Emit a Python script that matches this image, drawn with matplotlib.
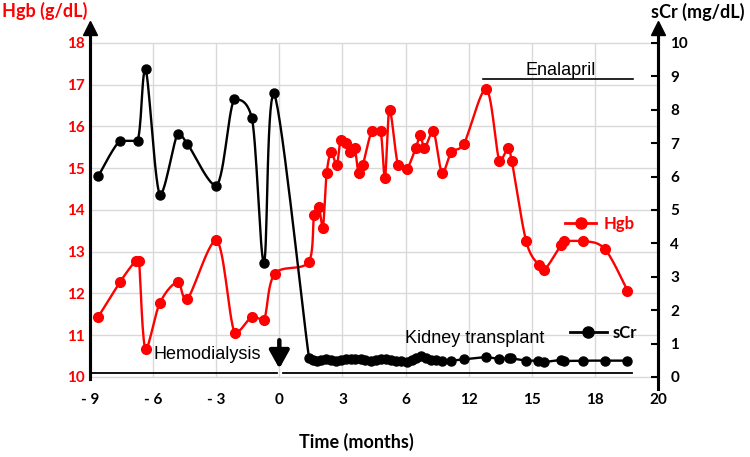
import numpy as np
import matplotlib
matplotlib.use('Agg')
from matplotlib import pyplot as plt
from matplotlib.lines import Line2D

### 1. DATA
# x axis is drawn evenly spaced, so time is kept in axis units (3 per tick)
tick_pos = [-9, -6, -3, 0, 3, 6, 9, 12, 15, 18]
tick_labels = ['- 9', '- 6', '- 3', '0', '3', '6', '12', '15', '18', '20']
hgb_ticks = [10, 11, 12, 13, 14, 15, 16, 17, 18]
scr_ticks = [0, 1, 2, 3, 4, 5, 6, 7, 8, 9, 10]

hgb_t = [-8.61, -7.58, -6.82, -6.67, -6.36, -5.68, -4.84, -4.38, -2.99, -2.12, -1.30, -0.73, -0.22,
         1.41, 1.65, 1.87, 2.07, 2.25, 2.47, 2.73, 2.91, 3.15, 3.34, 3.58, 3.77, 3.97, 4.40, 4.81,
         5.02, 5.24, 5.64, 6.05, 6.49, 6.71, 6.90, 7.32, 7.74, 8.18, 8.77,
         9.83, 10.46, 10.89, 11.05, 11.73, 12.33, 12.60, 13.39, 13.55, 14.45, 15.48, 16.55]
hgb = [11.44, 12.27, 12.79, 12.77, 10.66, 11.77, 12.27, 11.86, 13.28, 11.05, 11.44, 11.37, 12.47,
       12.76, 13.88, 14.08, 13.58, 14.88, 15.38, 15.07, 15.68, 15.60, 15.38, 15.48, 14.88, 15.08, 15.89, 15.89,
       14.77, 16.40, 15.08, 14.98, 15.49, 15.80, 15.48, 15.89, 14.88, 15.38, 15.58,
       16.90, 15.18, 15.49, 15.18, 13.26, 12.68, 12.56, 13.16, 13.26, 13.26, 13.06, 12.07]

scr_t = [-8.61, -7.58, -6.74, -6.36, -5.68, -4.84, -4.38, -2.99, -2.15, -1.30, -0.73, -0.25,
         1.41, 1.59, 1.77, 2.00, 2.23, 2.47, 2.71, 2.95, 3.18, 3.42, 3.62, 3.86, 4.05, 4.37, 4.60,
         4.84, 5.07, 5.31, 5.55, 5.78, 6.07, 6.31, 6.50, 6.73, 6.97, 7.21, 7.45, 7.73, 8.16, 8.80,
         9.82, 10.46, 10.93, 11.01, 11.72, 12.32, 12.59, 13.38, 13.54, 14.44, 15.47, 16.54]
scr = [6.01, 7.07, 7.07, 9.22, 5.45, 7.27, 6.99, 5.72, 8.31, 7.75, 3.42, 8.49,
       0.58, 0.51, 0.49, 0.51, 0.53, 0.51, 0.48, 0.51, 0.53, 0.54, 0.54, 0.54, 0.51, 0.49, 0.51,
       0.53, 0.54, 0.51, 0.49, 0.48, 0.44, 0.51, 0.56, 0.64, 0.56, 0.51, 0.51, 0.49, 0.49, 0.53,
       0.59, 0.54, 0.56, 0.56, 0.49, 0.49, 0.45, 0.51, 0.48, 0.49, 0.49, 0.49]


### 2. HELPERS
def smooth(x, y, n=16):
    # catmull-rom style bezier through the points (like a spreadsheet "smoothed line"),
    # control points kept inside each segment's box so the curve does not overshoot much
    p = np.column_stack([x, y]).astype(float)
    p = np.vstack([p[:1], p, p[-1:]])
    out = [p[1]]
    s = np.linspace(0, 1, n)[1:, None]
    for i in range(1, len(p) - 2):
        p0, p1, p2, p3 = p[i - 1], p[i], p[i + 1], p[i + 2]
        lo, hi = np.minimum(p1, p2), np.maximum(p1, p2)
        c1 = np.clip(p1 + (p2 - p0) / 6, lo, hi)
        c2 = np.clip(p2 - (p3 - p1) / 6, lo, hi)
        seg = (1 - s) ** 3 * p1 + 3 * (1 - s) ** 2 * s * c1 + 3 * (1 - s) * s ** 2 * c2 + s ** 3 * p2
        out.extend(seg)
    out = np.array(out)
    return out[:, 0], out[:, 1]


### 3. FIGURE
red = '#FF0000'
grid_c = '#D9D9D9'
hgb_lo, hgb_hi = 10 - 2 / 41.75, 18 + 14.5 / 41.75

fig = plt.figure(figsize=(7.5, 4.57), dpi=100)
ax = fig.add_axes([0.12, 0.1707, 0.7573, 0.767])
ax2 = ax.twinx()

ax.set_xlim(-9, 18)
ax.set_ylim(hgb_lo, hgb_hi)
ax2.set_ylim((hgb_lo - 10) * 1.25, (hgb_hi - 10) * 1.25)

# grid
for v in hgb_ticks:
    ax.plot([-9, 18], [v, v], color=grid_c, lw=1.0, zorder=0)
ax.vlines(tick_pos, 10, 18, color=grid_c, lw=1.0, zorder=0)

# series
sx, sy = smooth(hgb_t, hgb)
ax.plot(sx, sy, color=red, lw=1.7, zorder=3)
ax.plot(hgb_t, hgb, 'o', color=red, ms=7, zorder=4)

sx, sy = smooth(scr_t, scr)
ax2.plot(sx, sy, color='black', lw=1.7, zorder=3)
ax2.plot(scr_t, scr, 'o', color='black', ms=6.5, zorder=4)

# axes styling
for a in (ax, ax2):
    a.spines['top'].set_visible(False)
    a.spines['bottom'].set_visible(False)
    a.spines['left'].set_linewidth(2.2)
    a.spines['right'].set_linewidth(2.2)
ax2.spines['right'].set_bounds(-0.35, ax2.get_ylim()[1])

ax.set_xticks(tick_pos, tick_labels)
ax.tick_params(axis='x', length=0, pad=10, labelsize=11)
ax.set_yticks(hgb_ticks)
ax.tick_params(axis='y', length=0, pad=4, labelsize=11, labelcolor=red)
ax2.set_yticks(scr_ticks)
ax2.tick_params(axis='y', direction='in', length=5, width=1.5, pad=9, labelsize=11)
for lab in ax.get_xticklabels() + ax.get_yticklabels() + ax2.get_yticklabels():
    lab.set_fontfamily('Lato')
    lab.set_fontweight('bold')

# arrow heads on the two value axes
ax.plot([0], [1], marker='^', ms=9.5, color='black', transform=ax.transAxes, clip_on=False, zorder=5)
ax2.plot([1], [1], marker='^', ms=9.5, color='black', transform=ax2.transAxes, clip_on=False, zorder=5)

# treatment timeline
ax.plot([-9, -0.12], [10.09, 10.09], color='black', lw=1.3, zorder=2)
ax.plot([0.17, 16.77], [10.09, 10.09], color='black', lw=1.3, zorder=2)
ax.annotate('', xy=(0, 10.2), xytext=(0, 10.88),
            arrowprops=dict(arrowstyle='-|>,head_width=0.5,head_length=0.9', color='black',
                            lw=3.2, mutation_scale=12, shrinkA=0, shrinkB=0))
ax.text(-3.44, 10.53, 'Hemodialysis', ha='center', va='center', fontsize=13, family='Liberation Sans')
ax.text(9.3, 10.93, 'Kidney transplant', ha='center', va='center', fontsize=13, family='Liberation Sans')
ax.plot([9.67, 16.8], [17.14, 17.14], color='black', lw=1.2)
ax.text(13.39, 17.35, 'Enalapril', ha='center', va='center', fontsize=13, family='Liberation Sans')

# legends
leg_font = {'family': 'Lato', 'weight': 'bold', 'size': 12}
leg1 = ax2.legend(handles=[Line2D([], [], color=red, marker='o', ms=8, lw=2)], labels=['Hgb'],
                  loc='center left', bbox_to_anchor=(0.836, 0.442), frameon=False, borderpad=0,
                  borderaxespad=0, handlelength=1.9, handletextpad=0.45, labelcolor=red, prop=leg_font)
ax2.add_artist(leg1)
ax2.legend(handles=[Line2D([], [], color='black', marker='o', ms=8, lw=2)], labels=['sCr'],
           loc='center left', bbox_to_anchor=(0.845, 0.131), frameon=False, borderpad=0,
           borderaxespad=0, handlelength=2.2, handletextpad=0.35, prop=leg_font)

# titles
fig.text(45 / 750, 1 - 11 / 457, 'Hgb (g/dL)', ha='center', va='center', color=red,
         fontsize=13, fontweight='bold', family='Lato')
fig.text(698 / 750, 1 - 12 / 457, 'sCr (mg/dL)', ha='center', va='center', color='black',
         fontsize=13, fontweight='bold', family='Lato')
fig.text(356 / 750, 1 - 442 / 457, 'Time (months)', ha='center', va='center', color='black',
         fontsize=13, fontweight='bold', family='Lato')

fig.savefig('out.png', dpi=100)
